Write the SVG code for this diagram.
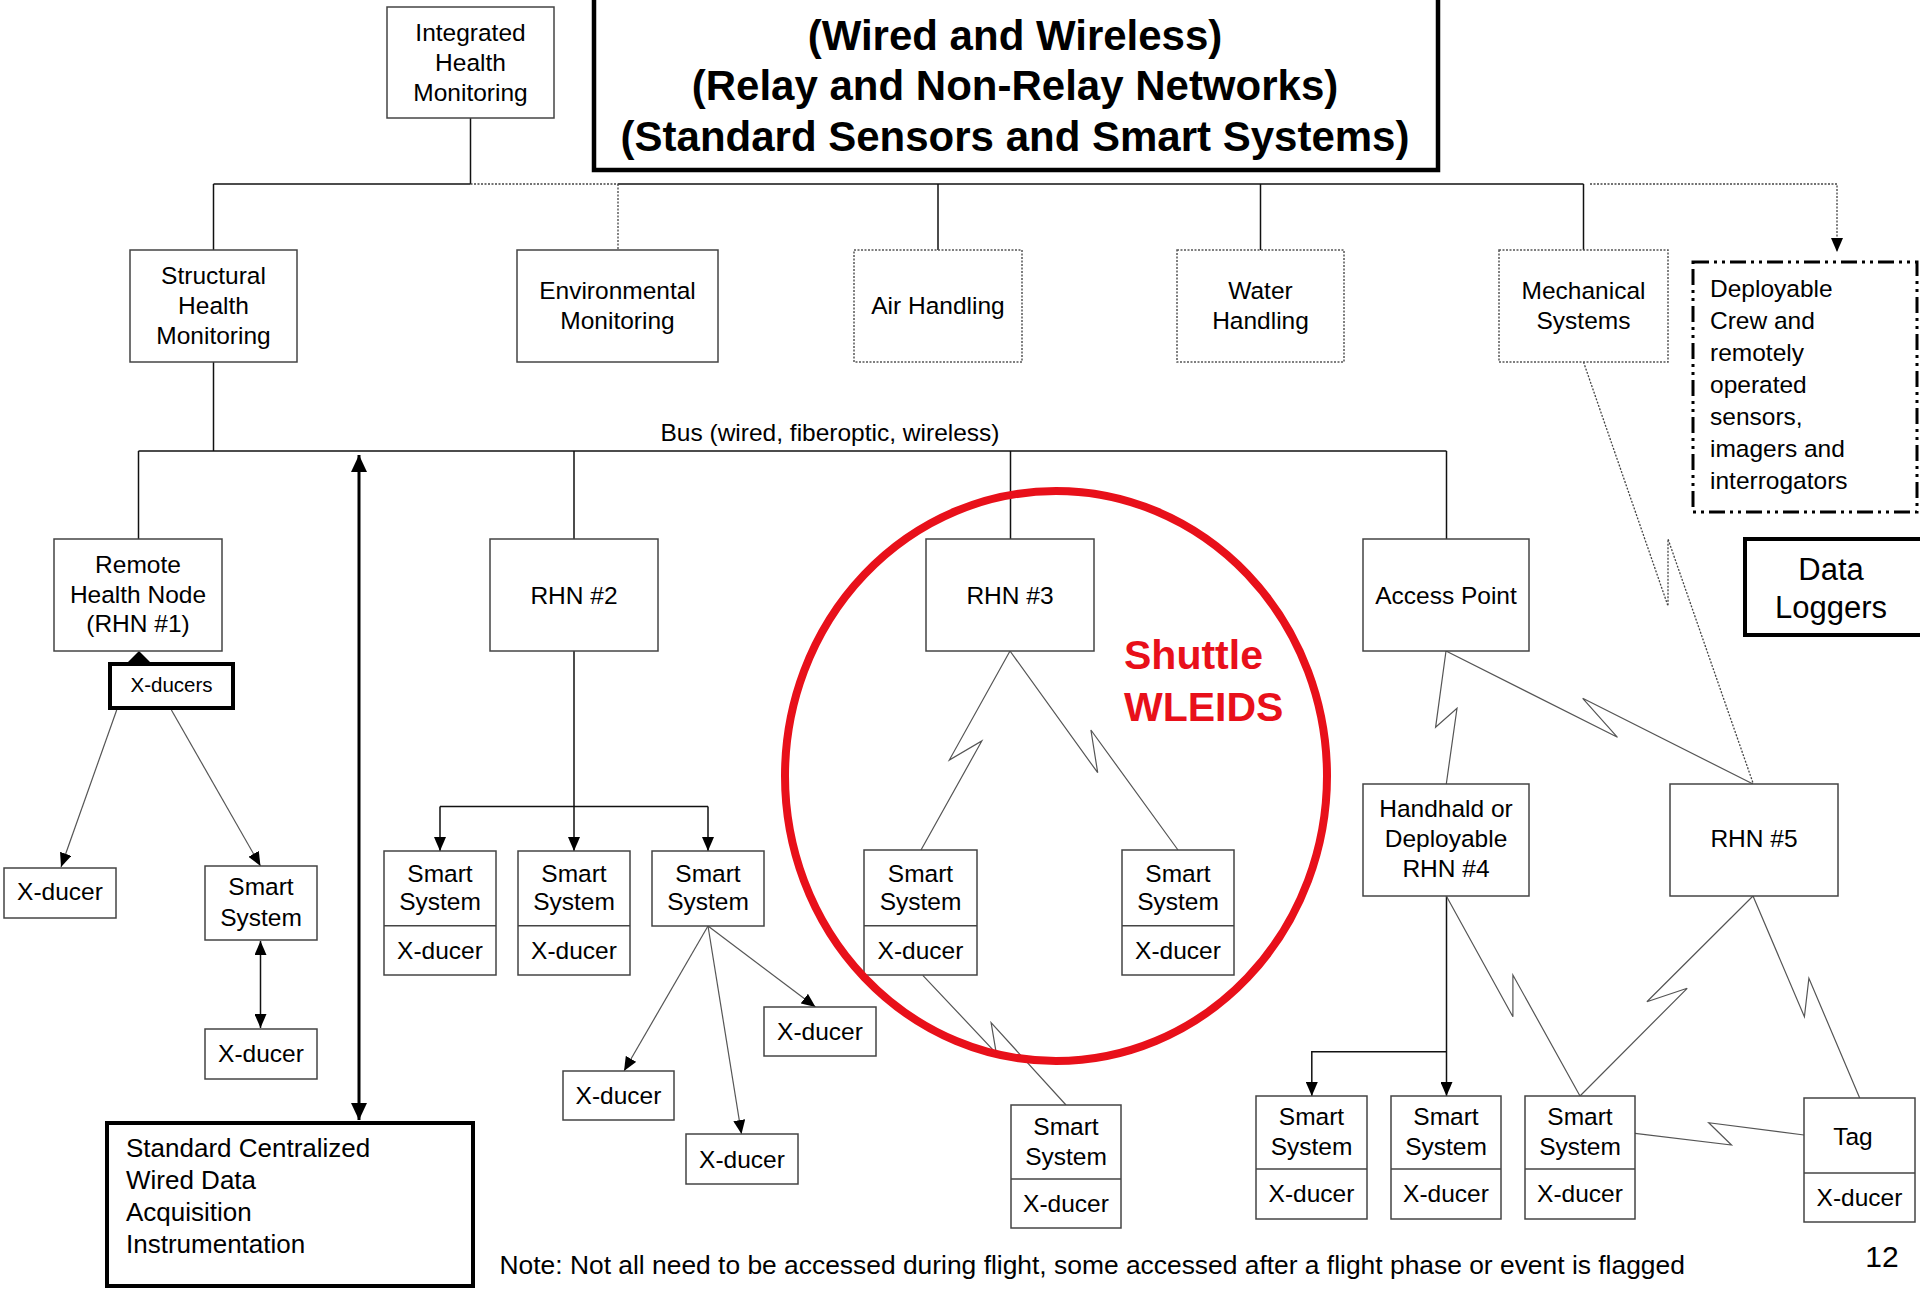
<svg xmlns="http://www.w3.org/2000/svg" width="1920" height="1290" viewBox="0 0 1920 1290">
<defs>
<style>
text{font-family:"Liberation Sans",Arial,sans-serif;fill:#000}
.t{font-size:24.5px;text-anchor:middle}
.tl{font-size:24.5px}
.title{font-size:42px;font-weight:bold;text-anchor:middle}
.red{font-size:41px;font-weight:bold;fill:#e8101a}
.box{fill:#fff;stroke:#444;stroke-width:1.5}
.dot{fill:#fff;stroke:#555;stroke-width:1.5;stroke-dasharray:2 1.5}
.thick{fill:#fff;stroke:#000;stroke-width:4}
.ln{fill:none;stroke:#111;stroke-width:1.5}
.lnd{fill:none;stroke:#444;stroke-width:1.3;stroke-dasharray:2 1.5}
.zz{fill:none;stroke:#555;stroke-width:1.2}
.div{stroke:#444;stroke-width:1.5}
</style>
<marker id="ah" markerUnits="userSpaceOnUse" markerWidth="14" markerHeight="12" refX="14" refY="6" orient="auto-start-reverse"><path d="M0,0 L14,6 L0,12 z" fill="#000"/></marker>
<marker id="ahb" markerUnits="userSpaceOnUse" markerWidth="17" markerHeight="16" refX="17" refY="8" orient="auto-start-reverse"><path d="M0,0 L17,8 L0,16 z" fill="#000"/></marker>
</defs>

<g id="connectors">
<line class="ln" x1="470.5" y1="118" x2="470.5" y2="184"/>
<line class="ln" x1="213.5" y1="184" x2="470.5" y2="184"/>
<line class="lnd" x1="470.5" y1="184" x2="618" y2="184"/>
<line class="ln" x1="618" y1="184" x2="1583.5" y2="184"/>
<line class="ln" x1="213.5" y1="184" x2="213.5" y2="250"/>
<line class="lnd" x1="618" y1="184" x2="618" y2="250"/>
<line class="ln" x1="938" y1="184" x2="938" y2="250"/>
<line class="ln" x1="1260.5" y1="184" x2="1260.5" y2="250"/>
<line class="ln" x1="1583.5" y1="184" x2="1583.5" y2="250"/>
<path class="lnd" d="M1590 184 H1837 V252" marker-end="url(#ah)"/>
<line class="ln" x1="213.5" y1="362" x2="213.5" y2="451"/>
<line class="ln" x1="138.5" y1="451" x2="1446.5" y2="451"/>
<line class="ln" x1="138.5" y1="451" x2="138.5" y2="539"/>
<line class="ln" x1="574" y1="451" x2="574" y2="539"/>
<line class="ln" x1="1010.5" y1="451" x2="1010.5" y2="539"/>
<line class="ln" x1="1446.5" y1="451" x2="1446.5" y2="539"/>
<line x1="359" y1="455" x2="359" y2="1120" stroke="#000" stroke-width="3" marker-start="url(#ahb)" marker-end="url(#ahb)"/>
<polygon points="128,662 139,651 150,662" fill="#000"/>
<line class="zz" x1="116.7" y1="710" x2="61" y2="867" marker-end="url(#ah)"/>
<line class="zz" x1="171.4" y1="710" x2="260.5" y2="866" marker-end="url(#ah)"/>
<line class="ln" x1="260.5" y1="941" x2="260.5" y2="1028" marker-start="url(#ah)" marker-end="url(#ah)"/>
<line class="ln" x1="574" y1="651" x2="574" y2="851" marker-end="url(#ah)"/>
<path class="ln" d="M440 806.5 H708"/>
<line class="ln" x1="440" y1="806.5" x2="440" y2="851" marker-end="url(#ah)"/>
<line class="ln" x1="708" y1="806.5" x2="708" y2="851" marker-end="url(#ah)"/>
<line class="zz" x1="708" y1="926" x2="624" y2="1071" marker-end="url(#ah)"/>
<line class="zz" x1="708" y1="926" x2="741.5" y2="1134" marker-end="url(#ah)"/>
<line class="zz" x1="708" y1="926" x2="815.5" y2="1007" marker-end="url(#ah)"/>
<path class="zz" d="M1010 651 L949.3 760 L981.8 741 L921 850"/>
<path class="zz" d="M1010 651 L1097.7 772.7 L1090.9 730 L1178 850"/>
<path class="zz" d="M922.8 975.3 L996.3 1053.3 L991.1 1022.7 L1066 1105"/>
<path class="zz" d="M1446 651 L1435.6 727.3 L1457 708.3 L1446.3 784"/>
<path class="zz" d="M1446 651 L1617.5 737.3 L1582.7 698.3 L1753 784"/>
<path class="lnd" d="M1583.5 362 L1668 606 L1668 539 L1753 783"/>
<line class="ln" x1="1446.5" y1="896" x2="1446.5" y2="1096" marker-end="url(#ah)"/>
<path class="ln" d="M1446.5 1051.7 H1311.8 V1096" marker-end="url(#ah)"/>
<path class="zz" d="M1446.3 896 L1512.9 1016.7 L1512.9 975 L1580 1096"/>
<path class="zz" d="M1753 896 L1646.9 1001.7 L1687.2 988.3 L1580 1096"/>
<path class="zz" d="M1753 896 L1804.4 1016.7 L1808.9 978.3 L1859.7 1098"/>
<path class="zz" d="M1635 1133.3 L1731.5 1145 L1708.7 1122.7 L1804 1135"/>
</g>

<g id="title">
<rect x="594" y="-10" width="844" height="180" fill="#fff" stroke="#000" stroke-width="4.5"/>
<text class="title" x="1015" y="50">(Wired and Wireless)</text>
<text class="title" x="1015" y="100">(Relay and Non-Relay Networks)</text>
<text class="title" x="1015" y="151">(Standard Sensors and Smart Systems)</text>
</g>

<g id="integrated">
<rect class="box" x="387" y="7" width="167" height="111"/>
<text class="t" x="470.5" y="41">Integrated</text>
<text class="t" x="470.5" y="71">Health</text>
<text class="t" x="470.5" y="101">Monitoring</text>
</g>

<g id="structural">
<rect class="box" x="130" y="250" width="167" height="112"/>
<text class="t" x="213.5" y="284">Structural</text>
<text class="t" x="213.5" y="314">Health</text>
<text class="t" x="213.5" y="344">Monitoring</text>
</g>

<g id="environmental">
<rect class="box" x="517" y="250" width="201" height="112"/>
<text class="t" x="617.5" y="299">Environmental</text>
<text class="t" x="617.5" y="329">Monitoring</text>
</g>

<g id="air">
<rect class="dot" x="854" y="250" width="168" height="112"/>
<text class="t" x="938" y="314">Air Handling</text>
</g>

<g id="water">
<rect class="dot" x="1177" y="250" width="167" height="112"/>
<text class="t" x="1260.5" y="299">Water</text>
<text class="t" x="1260.5" y="329">Handling</text>
</g>

<g id="mechanical">
<rect class="dot" x="1499" y="250" width="169" height="112"/>
<text class="t" x="1583.5" y="299">Mechanical</text>
<text class="t" x="1583.5" y="329">Systems</text>
</g>

<g id="deployable">
<rect x="1693" y="262" width="224" height="250" fill="#fff" stroke="#000" stroke-width="3" stroke-dasharray="16 5 3 5 3 5"/>
<text class="tl" x="1710" y="297">Deployable</text>
<text class="tl" x="1710" y="329">Crew and</text>
<text class="tl" x="1710" y="361">remotely</text>
<text class="tl" x="1710" y="393">operated</text>
<text class="tl" x="1710" y="425">sensors,</text>
<text class="tl" x="1710" y="457">imagers and</text>
<text class="tl" x="1710" y="489">interrogators</text>
</g>

<g id="dataloggers">
<rect class="thick" x="1745" y="539" width="180" height="96"/>
<text x="1831" y="580" style="font-size:31px;text-anchor:middle">Data</text>
<text x="1831" y="618" style="font-size:31px;text-anchor:middle">Loggers</text>
</g>

<g id="buslabel">
<text class="t" x="830" y="441">Bus (wired, fiberoptic, wireless)</text>
</g>

<g id="rhn1">
<rect class="box" x="54" y="539" width="168" height="112"/>
<text class="t" x="138" y="573">Remote</text>
<text class="t" x="138" y="603">Health Node</text>
<text class="t" x="138" y="632">(RHN #1)</text>
</g>

<g id="xducers">
<rect class="thick" x="110" y="664" width="123" height="44"/>
<text x="171.5" y="692" style="font-size:20.5px;text-anchor:middle">X-ducers</text>
</g>

<g id="xducer-left">
<rect class="box" x="4" y="868" width="112" height="50"/>
<text class="t" x="60" y="900">X-ducer</text>
</g>

<g id="smart-left">
<rect class="box" x="205" y="866" width="112" height="74"/>
<text class="t" x="261" y="895">Smart</text>
<text class="t" x="261" y="925.5">System</text>
</g>

<g id="xducer-left2">
<rect class="box" x="205" y="1029" width="112" height="50"/>
<text class="t" x="261" y="1062">X-ducer</text>
</g>

<g id="standard">
<rect class="thick" x="107" y="1123" width="366" height="163"/>
<text x="126" y="1157" style="font-size:26px">Standard Centralized</text>
<text x="126" y="1189" style="font-size:26px">Wired Data</text>
<text x="126" y="1221" style="font-size:26px">Acquisition</text>
<text x="126" y="1253" style="font-size:26px">Instrumentation</text>
</g>

<g id="rhn2">
<rect class="box" x="490" y="539" width="168" height="112"/>
<text class="t" x="574" y="603.5">RHN #2</text>
</g>

<g id="ss2a">
<rect class="box" x="384" y="851" width="112" height="124"/>
<line class="div" x1="384" y1="925.7" x2="496" y2="925.7"/>
<text class="t" x="440" y="882">Smart</text>
<text class="t" x="440" y="910">System</text>
<text class="t" x="440" y="958.5">X-ducer</text>
</g>

<g id="ss2b">
<rect class="box" x="518" y="851" width="112" height="124"/>
<line class="div" x1="518" y1="925.7" x2="630" y2="925.7"/>
<text class="t" x="574" y="882">Smart</text>
<text class="t" x="574" y="910">System</text>
<text class="t" x="574" y="958.5">X-ducer</text>
</g>

<g id="ss2c">
<rect class="box" x="652" y="851" width="112" height="75"/>
<text class="t" x="708" y="882">Smart</text>
<text class="t" x="708" y="910">System</text>
</g>

<g id="xd2a">
<rect class="box" x="563" y="1071" width="111" height="49"/>
<text class="t" x="618.5" y="1104">X-ducer</text>
</g>

<g id="xd2b">
<rect class="box" x="686" y="1134" width="112" height="50"/>
<text class="t" x="742" y="1167.5">X-ducer</text>
</g>

<g id="xd2c">
<rect class="box" x="764" y="1007" width="112" height="49"/>
<text class="t" x="820" y="1040">X-ducer</text>
</g>

<g id="rhn3">
<rect class="box" x="926" y="539" width="168" height="112"/>
<text class="t" x="1010" y="603.5">RHN #3</text>
</g>

<g id="ss3a">
<rect class="box" x="864" y="850" width="113" height="125"/>
<line class="div" x1="864" y1="925.7" x2="977" y2="925.7"/>
<text class="t" x="920.5" y="882">Smart</text>
<text class="t" x="920.5" y="910">System</text>
<text class="t" x="920.5" y="958.5">X-ducer</text>
</g>

<g id="ss3b">
<rect class="box" x="1122" y="850" width="112" height="125"/>
<line class="div" x1="1122" y1="925.7" x2="1234" y2="925.7"/>
<text class="t" x="1178" y="882">Smart</text>
<text class="t" x="1178" y="910">System</text>
<text class="t" x="1178" y="958.5">X-ducer</text>
</g>

<g id="ss3c">
<rect class="box" x="1011" y="1105" width="110" height="123"/>
<line class="div" x1="1011" y1="1179" x2="1121" y2="1179"/>
<text class="t" x="1066" y="1134.5">Smart</text>
<text class="t" x="1066" y="1165">System</text>
<text class="t" x="1066" y="1212">X-ducer</text>
</g>

<g id="wleids">
<ellipse cx="1056" cy="776" rx="271" ry="285" fill="none" stroke="#e8101a" stroke-width="8"/>
<text class="red" x="1124" y="669">Shuttle</text>
<text class="red" x="1124" y="721">WLEIDS</text>
</g>

<g id="access">
<rect class="box" x="1363" y="539" width="166" height="112"/>
<text class="t" x="1446" y="603.5">Access Point</text>
</g>

<g id="rhn4">
<rect class="box" x="1363" y="784" width="166" height="112"/>
<text class="t" x="1446" y="817">Handhald or</text>
<text class="t" x="1446" y="847">Deployable</text>
<text class="t" x="1446" y="877">RHN #4</text>
</g>

<g id="rhn5">
<rect class="box" x="1670" y="784" width="168" height="112"/>
<text class="t" x="1754" y="847">RHN #5</text>
</g>

<g id="ss4a">
<rect class="box" x="1256" y="1096" width="111" height="123"/>
<line class="div" x1="1256" y1="1169" x2="1367" y2="1169"/>
<text class="t" x="1311.5" y="1125">Smart</text>
<text class="t" x="1311.5" y="1155">System</text>
<text class="t" x="1311.5" y="1202">X-ducer</text>
</g>

<g id="ss4b">
<rect class="box" x="1391" y="1096" width="110" height="123"/>
<line class="div" x1="1391" y1="1169" x2="1501" y2="1169"/>
<text class="t" x="1446" y="1125">Smart</text>
<text class="t" x="1446" y="1155">System</text>
<text class="t" x="1446" y="1202">X-ducer</text>
</g>

<g id="ss4c">
<rect class="box" x="1525" y="1096" width="110" height="123"/>
<line class="div" x1="1525" y1="1169" x2="1635" y2="1169"/>
<text class="t" x="1580" y="1125">Smart</text>
<text class="t" x="1580" y="1155">System</text>
<text class="t" x="1580" y="1202">X-ducer</text>
</g>

<g id="tag">
<rect class="box" x="1804" y="1098" width="111" height="124"/>
<line class="div" x1="1804" y1="1173" x2="1915" y2="1173"/>
<text class="t" x="1853" y="1145">Tag</text>
<text class="t" x="1859.5" y="1205.5">X-ducer</text>
</g>

<g id="note">
<text x="499.5" y="1274" style="font-size:26.4px">Note: Not all need to be accessed during flight, some accessed after a flight phase or event is flagged</text>
<text x="1882" y="1267" style="font-size:30px;text-anchor:middle">12</text>
</g>
</svg>
